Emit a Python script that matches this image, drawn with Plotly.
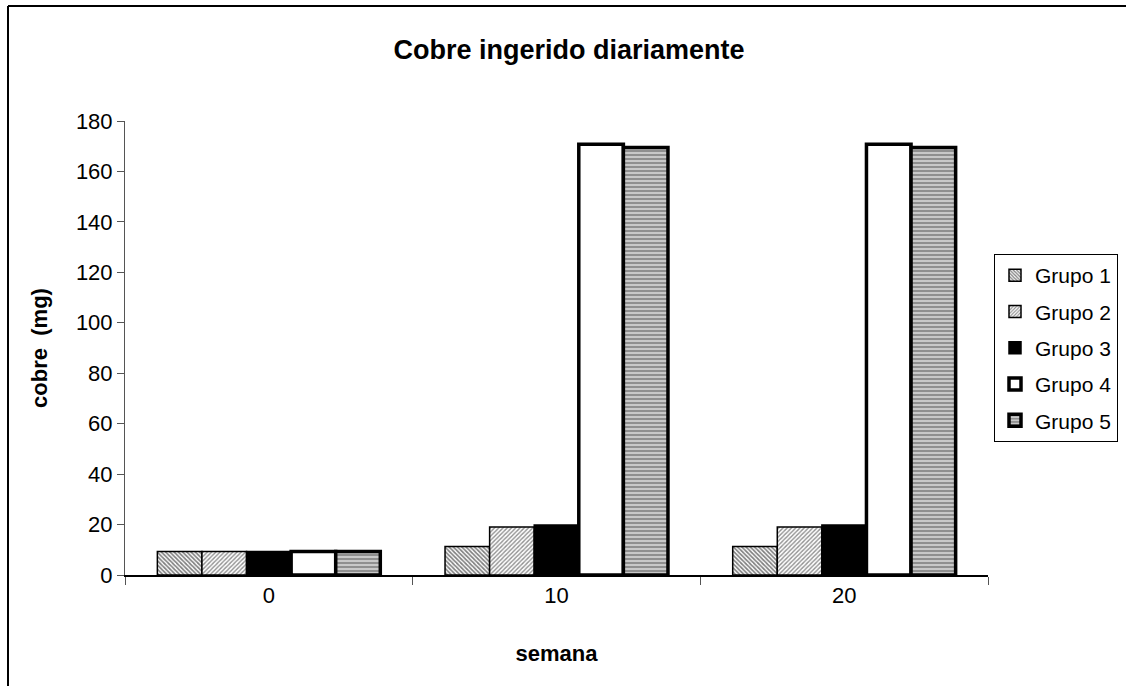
import plotly.graph_objects as go

semanas = ["0", "10", "20"]
grupos = ["Grupo 1", "Grupo 2", "Grupo 3", "Grupo 4", "Grupo 5"]
grupo1 = [9.3, 11.3, 11.3]
grupo2 = [9.3, 19.0, 19.0]
grupo3 = [9.3, 19.8, 19.8]
grupo4 = [9.3, 170.8, 170.8]
grupo5 = [9.3, 169.5, 169.5]
valores = [grupo1, grupo2, grupo3, grupo4, grupo5]

estilos = [
    dict(color="white", pattern=dict(shape="\\", fgcolor="black", bgcolor="white", size=3, solidity=0.55),
         line=dict(color="black", width=1.5)),
    dict(color="white", pattern=dict(shape="/", fgcolor="#222222", bgcolor="white", size=3, solidity=0.45),
         line=dict(color="black", width=1.5)),
    dict(color="black", line=dict(color="black", width=1.5)),
    dict(color="white", line=dict(color="black", width=3.5)),
    dict(color="#b0b0b0", pattern=dict(shape="-", fgcolor="#555555", bgcolor="#c8c8c8", size=4, solidity=0.5),
         line=dict(color="black", width=3.5)),
]

fig = go.Figure()
for nombre, vals, est in zip(grupos, valores, estilos):
    fig.add_trace(go.Bar(x=semanas, y=vals, name=nombre, marker=est, legendgroup=nombre))

W, H = 1126, 686
ml, mr, mt, mb = 125, 138, 121, 111
pw, ph = W - ml - mr, H - mt - mb

def px(x):
    return (x - ml) / pw

def py(y):
    return (H - mb - y) / ph

fig.update_layout(
    width=W, height=H,
    margin=dict(l=ml, r=mr, t=mt, b=mb, autoexpand=False),
    paper_bgcolor="white", plot_bgcolor="white",
    barmode="group", bargap=0.225, bargroupgap=0,
    font=dict(family="Liberation Sans, Arial", color="black", size=22),
    title=dict(text="<b>Cobre ingerido diariamente</b>", x=569 / W, xanchor="center",
               y=1 - 50 / H, yanchor="middle", font=dict(size=27)),
    showlegend=True,
    legend=dict(x=px(994), y=py(254), xanchor="left", yanchor="top",
                bordercolor="black", borderwidth=1, bgcolor="white",
                font=dict(size=21), tracegroupgap=6, itemwidth=30),
    shapes=[
        dict(type="line", xref="paper", yref="paper", x0=px(8), x1=px(1130), y0=py(6), y1=py(6),
             line=dict(color="black", width=2)),
        dict(type="line", xref="paper", yref="paper", x0=px(8), x1=px(8), y0=py(6), y1=py(690),
             line=dict(color="black", width=2)),
    ],
)

fig.update_xaxes(type="category", showline=True, linecolor="black", linewidth=1.5,
                 ticks="outside", tickson="boundaries", ticklen=8, tickcolor="#555555",
                 showgrid=False,
                 title=dict(text="<b>semana</b>", font=dict(size=22), standoff=38))
fig.update_yaxes(range=[0, 180], dtick=20, showline=True, linecolor="#555555", linewidth=1,
                 ticks="outside", ticklen=7, tickcolor="#555555", showgrid=False, zeroline=False,
                 title=dict(text="<b>cobre  (mg)</b>", font=dict(size=22), standoff=22))

fig.write_html("out.html")
